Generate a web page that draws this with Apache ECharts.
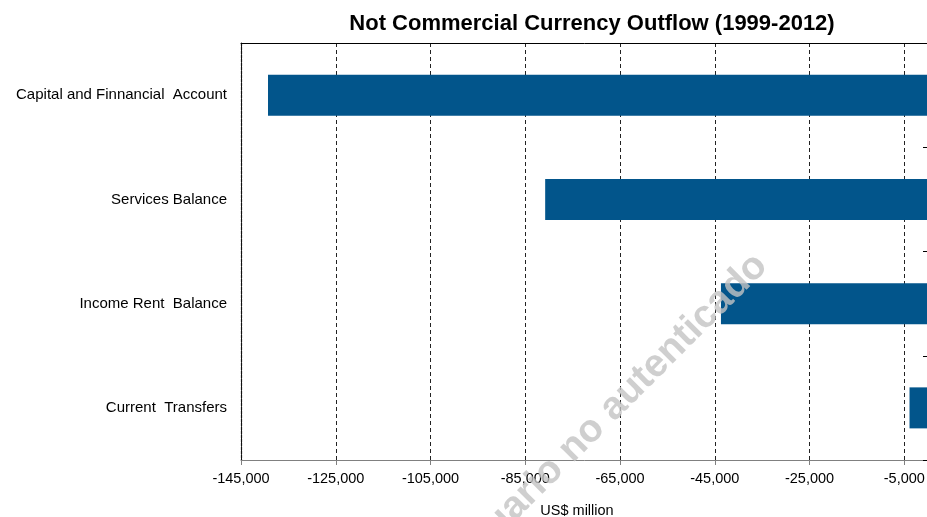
<!DOCTYPE html>
<html>
<head>
<meta charset="utf-8">
<script src="https://cdn.jsdelivr.net/npm/echarts@6/dist/echarts.min.js"></script>
<style>
html,body{margin:0;padding:0;background:#fff;}
#chart{width:927px;height:517px;}
</style>
</head>
<body>
<div id="chart"></div>
<script>
const categories = ['Capital and Finnancial  Account', 'Services Balance', 'Income Rent  Balance', 'Current  Transfers'];
const values = [-139300, -80800, -43700, -3900];
const titleText = 'Not Commercial Currency Outflow (1999-2012)';
const axisName = 'US$ million';
const watermark = 'Usuario no autenticado';

const chart = echarts.init(document.getElementById('chart'));
const fmt = v => (v < 0 ? '-' : '') + Math.abs(v).toLocaleString('en-US');
chart.setOption({
  backgroundColor: '#fff',
  animation: false,
  textStyle: { fontFamily: 'Liberation Sans, Arial, sans-serif' },
  title: {
    text: titleText,
    left: 587, top: 8, textAlign: 'center',
    textStyle: { fontSize: 22, fontWeight: 'bold', color: '#000', fontFamily: 'Liberation Sans, Arial, sans-serif' }
  },
  grid: { left: 241, top: 43, width: 687, height: 417, containLabel: false, outerBoundsMode: 'none' },
  xAxis: [{
    type: 'value', position: 'bottom', min: -145000, max: 0, interval: 20000,
    axisLine: { show: true, lineStyle: { color: '#808080', width: 1 } },
    axisTick: { show: true, length: 5, lineStyle: { color: '#808080' } },
    axisLabel: { color: '#000', fontSize: 14.5, margin: 11, showMaxLabel: false, formatter: fmt },
    splitLine: { show: true, lineStyle: { color: '#222', type: [4, 3], width: 1 } },
    name: axisName, nameLocation: 'middle', nameGap: 43,
    nameTextStyle: { color: '#000', fontSize: 14.5, padding: [0, 15, 0, 0] }
  }, {
    type: 'value', position: 'top', min: -145000, max: 0,
    axisLine: { show: true, onZero: false, lineStyle: { color: '#000', width: 1 } },
    axisTick: { show: false }, axisLabel: { show: false }, splitLine: { show: false }
  }],
  yAxis: [{
    type: 'category', data: categories, inverse: true, position: 'left',
    axisLine: { show: true, onZero: false, lineStyle: { color: '#111', type: [3, 1], width: 1.2 } },
    axisTick: { show: false },
    axisLabel: { color: '#000', fontSize: 15, margin: 14, padding: [4, 0, 0, 0] }
  }, {
    type: 'category', data: categories, inverse: true, position: 'right',
    axisLine: { show: false, onZero: false },
    axisTick: { show: true, inside: true, length: 5, lineStyle: { color: '#000' } },
    axisLabel: { show: false }
  }],
  series: [{
    type: 'bar', data: values, barWidth: 41,
    itemStyle: { color: '#02558B' }
  }],
  graphic: [{
    type: 'text', x: 608, y: 413, rotation: Math.PI / 4, z: 100,
    style: {
      text: watermark, fill: 'rgba(195,195,195,0.8)',
      font: 'bold 39px "Liberation Sans", Arial, sans-serif',
      textAlign: 'center', textVerticalAlign: 'middle'
    }
  }]
});
</script>
</body>
</html>
